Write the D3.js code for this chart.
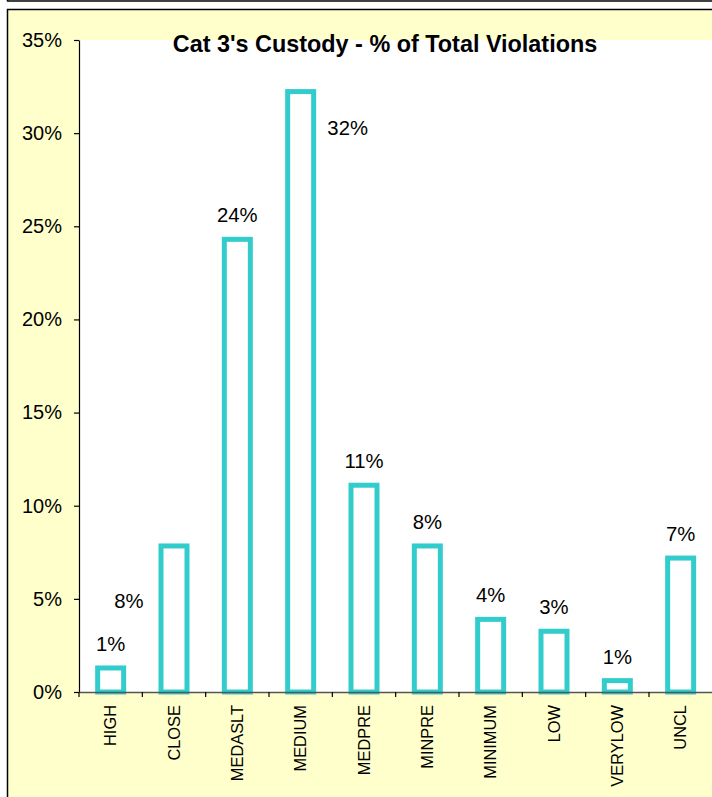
<!DOCTYPE html>
<html>
<head>
<meta charset="utf-8">
<script src="https://cdn.jsdelivr.net/npm/d3@7"></script>
<style>
  html, body { margin: 0; padding: 0; background: #ffffff; }
  svg { display: block; font-family: Arial, "Liberation Sans", sans-serif; }
</style>
</head>
<body>
<svg id="chart" width="712" height="797"></svg>
<script>
// Custody categories along the x axis
const categories = ["HIGH", "CLOSE", "MEDASLT", "MEDIUM", "MEDPRE", "MINPRE", "MINIMUM", "LOW", "VERYLOW", "UNCL"];
// Share of total violations for each custody level
const shares = [0.0129, 0.0784, 0.2430, 0.3223, 0.1110, 0.0784, 0.0390, 0.0326, 0.0061, 0.0719];
// Y axis tick values
const yTicks = [0, 0.05, 0.10, 0.15, 0.20, 0.25, 0.30, 0.35];

const titleText = "Cat 3's Custody - % of Total Violations";

// Hand-placed data labels (offsets from their default spot above the bar)
const labelNudge = { CLOSE: [-45, 79], MEDIUM: [47, 60] };

const svg = d3.select("#chart");
const W = 712, H = 797;
const plot = { left: 79, right: 712.33, top: 40, bottom: 692 };
const barColor = "#33CCCC";
const fmt = d3.format(".0%");

// Frame of the block above and the chart area
svg.append("line").attr("x1", 7.5).attr("x2", W).attr("y1", 1).attr("y2", 1)
  .attr("stroke", "#000").attr("stroke-width", 1.5);
svg.append("line").attr("x1", 7.5).attr("x2", 7.5).attr("y1", 0).attr("y2", 1.5)
  .attr("stroke", "#000").attr("stroke-width", 1.5);
svg.append("rect").attr("x", 7.5).attr("y", 9.5).attr("width", W + 10).attr("height", H + 10)
  .attr("fill", "#FFFFCC").attr("stroke", "#000").attr("stroke-width", 1.5);

// Plot area
svg.append("rect").attr("x", plot.left).attr("y", plot.top)
  .attr("width", plot.right - plot.left).attr("height", plot.bottom - plot.top)
  .attr("fill", "#ffffff");

const x = d3.scaleBand().domain(categories).range([plot.left, plot.right]).padding(0);
const y = d3.scaleLinear().domain([0, 0.35]).range([plot.bottom, plot.top]);

const data = categories.map((c, i) => ({ cat: c, v: shares[i] }));

// Bars: outlined, white fill
const barW = 26;
svg.append("g").selectAll("rect").data(data).join("rect")
  .attr("x", d => x(d.cat) + x.bandwidth() / 2 - barW / 2)
  .attr("y", d => y(d.v))
  .attr("width", barW)
  .attr("height", d => y(0) - y(d.v))
  .attr("fill", "#ffffff")
  .attr("stroke", barColor)
  .attr("stroke-width", 5);

// Y axis
const yAxis = svg.append("g").attr("transform", `translate(${plot.left},0)`)
  .call(d3.axisLeft(y).tickValues(yTicks).tickFormat(fmt).tickSize(5).tickSizeOuter(0).tickPadding(12));
yAxis.select(".domain").attr("stroke", "#000").attr("stroke-width", 1.2);
yAxis.selectAll(".tick line").attr("stroke", "#000").attr("stroke-width", 1.2);
yAxis.selectAll("text").attr("font-size", 20).attr("fill", "#000")
  .attr("font-family", "Arial, 'Liberation Sans', sans-serif");

// X axis with category labels, rotated
const xAxis = svg.append("g").attr("transform", `translate(0,${plot.bottom})`)
  .call(d3.axisBottom(x).tickSize(0).tickSizeOuter(0));
xAxis.select(".domain").attr("stroke", "#555").attr("stroke-width", 1.5);
xAxis.selectAll("text")
  .attr("transform", "rotate(-90)")
  .attr("x", -13).attr("y", 0).attr("dy", "0.35em")
  .attr("text-anchor", "end")
  .attr("font-size", 16.4).attr("fill", "#000")
  .attr("font-family", "Arial, 'Liberation Sans', sans-serif");

// Tick marks between categories
svg.append("g").selectAll("line").data(categories).join("line")
  .attr("x1", d => x(d)).attr("x2", d => x(d))
  .attr("y1", plot.bottom).attr("y2", plot.bottom + 5)
  .attr("stroke", "#000").attr("stroke-width", 1.2);

// Value labels
svg.append("g").selectAll("text").data(data).join("text")
  .attr("x", d => x(d.cat) + x.bandwidth() / 2 + (labelNudge[d.cat] ? labelNudge[d.cat][0] : 0))
  .attr("y", d => y(d.v) - 17 + (labelNudge[d.cat] ? labelNudge[d.cat][1] : 0))
  .attr("text-anchor", "middle")
  .attr("font-size", 20.3).attr("fill", "#000")
  .text(d => fmt(d.v));

// Title
svg.append("text").attr("x", 385).attr("y", 52)
  .attr("text-anchor", "middle").attr("font-size", 23.4).attr("font-weight", "bold")
  .attr("fill", "#000").text(titleText);
</script>
</body>
</html>
